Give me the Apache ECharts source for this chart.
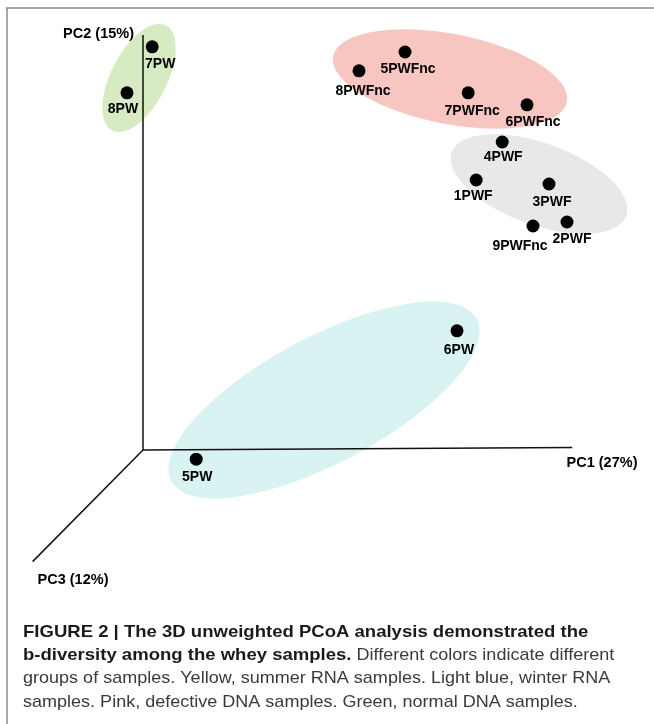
<!DOCTYPE html>
<html><head><meta charset="utf-8">
<script src="https://cdn.jsdelivr.net/npm/echarts@6/dist/echarts.min.js"></script>
<style>html,body{margin:0;padding:0;background:#fff}#c{width:654px;height:724px}</style>
</head><body><div id="c"></div>
<script>
// ---- data (projected PCoA positions, arbitrary plot units) ----
const sampleNames = ['7PW','8PW','5PWFnc','8PWFnc','7PWFnc','6PWFnc','4PWF','1PWF','3PWF','9PWFnc','2PWF','6PW','5PW'];
const sampleX = [2.3, -4, 65.5, 54, 81.3, 96, 89.8, 83.3, 101.5, 97.5, 106, 78.5, 13.3];
const sampleY = [100.8, 89.3, 99.5, 94.8, 89.3, 86.3, 77, 67.5, 66.5, 56, 57, 29.8, -2.3];

const groupNames = ['Green', 'Pink', 'Grey', 'Light blue'];
const groupCenterX = [-1, 76.75, 99, 45.25];
const groupCenterY = [93, 92.75, 66.5, 12.5];
const groupSemiMajor = [14.75, 29.75, 23.2, 43.25];
const groupSemiMinor = [7, 11.25, 10.2, 15.75];
const groupAngle = [63, -11, -20, 28];

const axisNames = ['PC1 (27%)', 'PC2 (15%)', 'PC3 (12%)'];
const axisEndX = [107.3, 0, -27.6];
const axisEndY = [0.6, 103.75, -27.9];

const captionBold1 = 'FIGURE 2 | The 3D unweighted PCoA analysis demonstrated the';
const captionBold2 = 'b-diversity among the whey samples.';
const captionReg2 = ' Different colors indicate different';
const captionReg3 = 'groups of samples. Yellow, summer RNA samples. Light blue, winter RNA';
const captionReg4 = 'samples. Pink, defective DNA samples. Green, normal DNA samples.';

// ---- styles ----
const groupColors = ['#d6ebc4', '#f7c6c0', '#e8e8e8', '#d9f3f3'];
const labelOffsets = [[8,17],[-4,16],[3,17],[4,20],[4,18],[6,17],[1,15],[-3,16],[3,18],[-13,20],[5,17],[2,19],[1,18]];
const FONT = '"Liberation Sans", Arial, Helvetica, sans-serif';
const CAP_SIZE = 17;
const BOLD_SX = 1.09;
const REG_SX = 1.06;

const chart = echarts.init(document.getElementById('c'), null, {renderer: 'canvas'});

const scatterData = sampleNames.map((n, i) => ({
  name: n, value: [sampleX[i], sampleY[i]],
  label: {offset: labelOffsets[i]}
}));
const ellipseData = groupNames.map((n, i) => ({
  name: n, value: [groupCenterX[i], groupCenterY[i], groupSemiMajor[i], groupSemiMinor[i], groupAngle[i], i]
}));
const axisLinesData = axisNames.map((n, i) => ({name: n, coords: [[0, 0], [axisEndX[i], axisEndY[i]]]}));

// measure bold part width for caption line 2
const cv = document.createElement('canvas').getContext('2d');
cv.font = 'bold ' + CAP_SIZE + 'px ' + FONT;
const boldW = cv.measureText(captionBold2).width * BOLD_SX;

const capX = 23;
const txt = (text, x, y, bold, align, color, size, sx) => ({
  type: 'text', x: x, y: y, scaleX: sx || 1, silent: true,
  style: {
    text: text, x: 0, y: 0, fill: color, font: (bold ? 'bold ' : '') + (size || CAP_SIZE) + 'px ' + FONT,
    textAlign: align || 'left', textVerticalAlign: 'middle', align: align || 'left', verticalAlign: 'middle'
  }
});

chart.setOption({
  backgroundColor: '#fff',
  animation: false,
  grid: {left: 0, right: 0, top: 0, bottom: 0, containLabel: false},
  xAxis: {type: 'value', min: -35.75, max: 127.75, show: false},
  yAxis: {type: 'value', min: -68.5, max: 112.5, show: false},
  series: [
    {
      type: 'custom', z: 1, silent: true,
      data: ellipseData,
      renderItem: function (params, api) {
        const cx = api.value(0), cy = api.value(1), a = api.value(2), b = api.value(3);
        const th = api.value(4) * Math.PI / 180, idx = api.value(5);
        const pts = [];
        for (let k = 0; k < 120; k++) {
          const t = 2 * Math.PI * k / 120;
          const ex = a * Math.cos(t), ey = b * Math.sin(t);
          pts.push(api.coord([cx + ex * Math.cos(th) - ey * Math.sin(th), cy + ex * Math.sin(th) + ey * Math.cos(th)]));
        }
        return {type: 'polygon', shape: {points: pts, smooth: 0}, style: {fill: groupColors[idx], stroke: null}};
      }
    },
    {
      type: 'lines', coordinateSystem: 'cartesian2d', z: 2, silent: true,
      data: axisLinesData,
      lineStyle: {color: '#111', width: 1.5, opacity: 1, curveness: 0},
      symbol: 'none'
    },
    {
      type: 'scatter', z: 3, silent: true,
      symbol: 'circle', symbolSize: 13,
      itemStyle: {color: '#000', opacity: 1},
      data: scatterData,
      label: {
        show: true, position: 'inside', formatter: '{b}', opacity: 1,
        color: '#000', fontFamily: FONT, fontWeight: 'bold', fontSize: 14
      }
    }
  ],
  graphic: [
    {type: 'line', silent: true, shape: {x1: 6, y1: 8, x2: 654, y2: 8}, style: {stroke: '#8c8c8c', lineWidth: 1.5}},
    {type: 'line', silent: true, shape: {x1: 7, y1: 8, x2: 7, y2: 724}, style: {stroke: '#8c8c8c', lineWidth: 1.5}},
    txt(axisNames[0], 602, 463, true, 'center', '#000', 14.5),
    txt(axisNames[1], 134, 34, true, 'right', '#000', 14.5),
    txt(axisNames[2], 73, 580, true, 'center', '#000', 14.5),
    txt(captionBold1, capX, 632.5, true, 'left', '#1a1a1a', CAP_SIZE, BOLD_SX),
    txt(captionBold2, capX, 655, true, 'left', '#1a1a1a', CAP_SIZE, BOLD_SX),
    txt(captionReg2, capX + boldW, 655, false, 'left', '#3a3a3a', CAP_SIZE, REG_SX),
    txt(captionReg3, capX, 678.5, false, 'left', '#3a3a3a', CAP_SIZE, REG_SX),
    txt(captionReg4, capX, 702.5, false, 'left', '#3a3a3a', CAP_SIZE, REG_SX)
  ]
});
</script></body></html>
